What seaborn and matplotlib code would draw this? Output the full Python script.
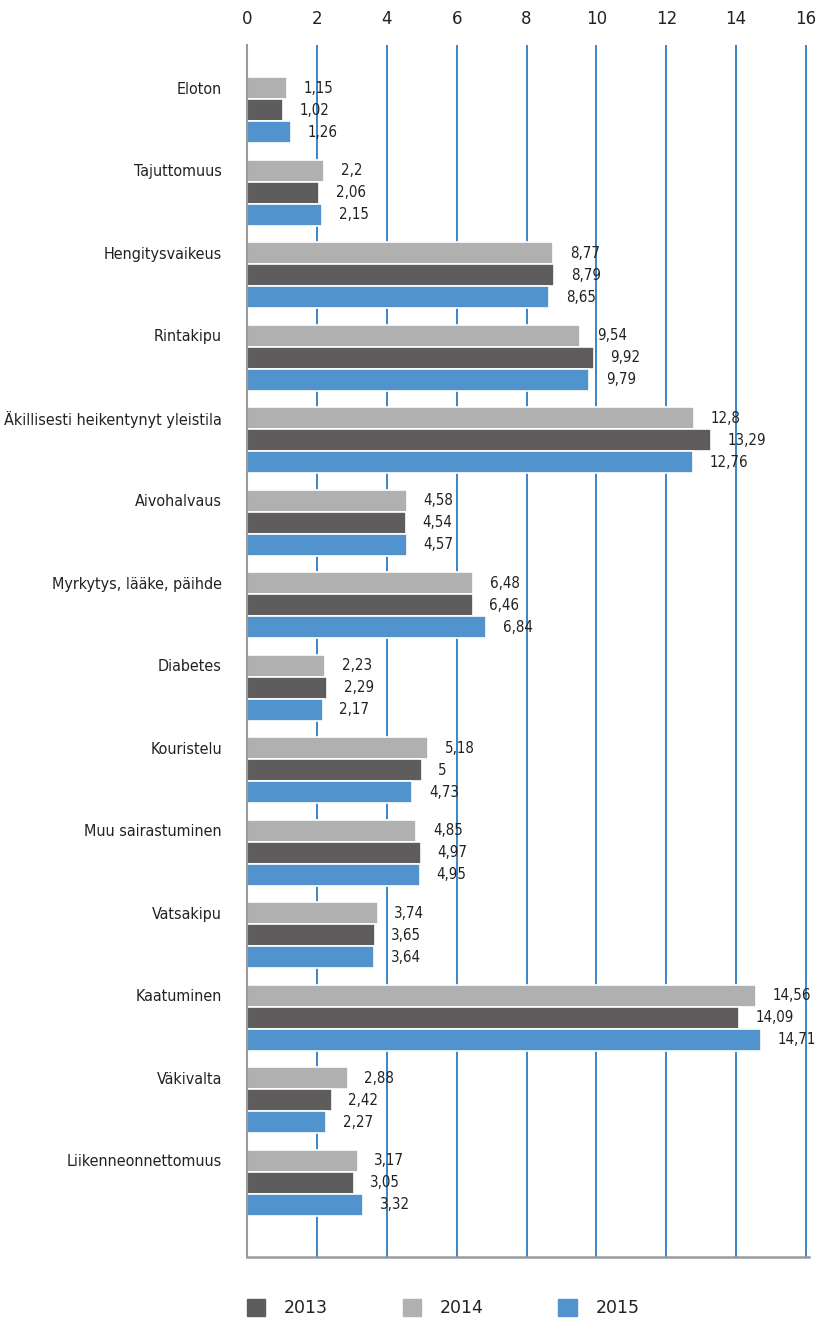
import pandas as pd
import matplotlib.pyplot as plt
import matplotlib.patches as mpatches
import seaborn as sns

categories = ['Eloton', 'Tajuttomuus', 'Hengitysvaikeus', 'Rintakipu',
              'Äkillisesti heikentynyt yleistila', 'Aivohalvaus',
              'Myrkytys, lääke, päihde', 'Diabetes', 'Kouristelu',
              'Muu sairastuminen', 'Vatsakipu', 'Kaatuminen', 'Väkivalta',
              'Liikenneonnettomuus']
vals_2014 = [1.15, 2.2, 8.77, 9.54, 12.8, 4.58, 6.48, 2.23, 5.18, 4.85, 3.74, 14.56, 2.88, 3.17]
vals_2013 = [1.02, 2.06, 8.79, 9.92, 13.29, 4.54, 6.46, 2.29, 5.0, 4.97, 3.65, 14.09, 2.42, 3.05]
vals_2015 = [1.26, 2.15, 8.65, 9.79, 12.76, 4.57, 6.84, 2.17, 4.73, 4.95, 3.64, 14.71, 2.27, 3.32]
years = ['2014', '2013', '2015']
colors = {'2013': '#5e5c5d', '2014': '#b0b0b1', '2015': '#5193cc'}

rows = []
for yr, vals in zip(years, [vals_2014, vals_2013, vals_2015]):
    for c, v in zip(categories, vals):
        rows.append({'kategoria': c, 'vuosi': yr, 'arvo': v})
df = pd.DataFrame(rows)

sns.set_style('white')
plt.rcParams['font.family'] = ['DejaVu Sans']
plt.rcParams['font.stretch'] = 'condensed'
plt.rcParams['text.color'] = '#222222'

fig = plt.figure(figsize=(8.16, 13.21), dpi=100)
ax = fig.add_axes([247 / 816, 1 - 1257 / 1321, (809.5 - 247) / 816, (1257 - 45) / 1321])

sns.barplot(data=df, y='kategoria', x='arvo', hue='vuosi', hue_order=years,
            palette=colors, saturation=1, orient='h', width=0.8,
            edgecolor='white', linewidth=1.2, ax=ax, legend=False, zorder=2)

for cont in ax.containers:
    labels = [f"{b.get_width():g}".replace('.', ',') for b in cont]
    ax.bar_label(cont, labels=labels, padding=12, fontsize=10.8, color='#222222')

ax.set_xlim(0, 16.1)
ax.set_ylim(13.9, -0.79)
ax.set_xticks(range(0, 17, 2))
ax.xaxis.tick_top()
ax.tick_params(axis='x', length=0, pad=12, labelsize=12, colors='#222222')
for t in ax.get_xticklabels():
    t.set_fontstretch('normal')
ax.set_yticks([i - 0.27 for i in range(len(categories))])
ax.set_yticklabels(categories)
ax.tick_params(axis='y', length=0, pad=18, labelsize=11.5, colors='#222222')
ax.set_xlabel('')
ax.set_ylabel('')

ax.grid(False)
for x in range(2, 17, 2):
    ax.axvline(x, color='#2a7bc3', lw=1.3, zorder=1)

for s in ['top', 'right']:
    ax.spines[s].set_visible(False)
for s in ['left', 'bottom']:
    ax.spines[s].set_color('#9a9a9a')
    ax.spines[s].set_zorder(3)
ax.spines['left'].set_linewidth(1.5)
ax.spines['bottom'].set_linewidth(1.8)

handles = [mpatches.Patch(color=colors[y], label=y) for y in ['2013', '2014', '2015']]
fig.legend(handles=handles, loc='center left', bbox_to_anchor=(231 / 816, 1 - 1308 / 1321),
           ncol=3, frameon=False, prop={'size': 12.5, 'stretch': 'normal'},
           handlelength=1.05, handleheight=1.15, handletextpad=1.1, columnspacing=4.3)

fig.savefig('out.png', dpi=100)
